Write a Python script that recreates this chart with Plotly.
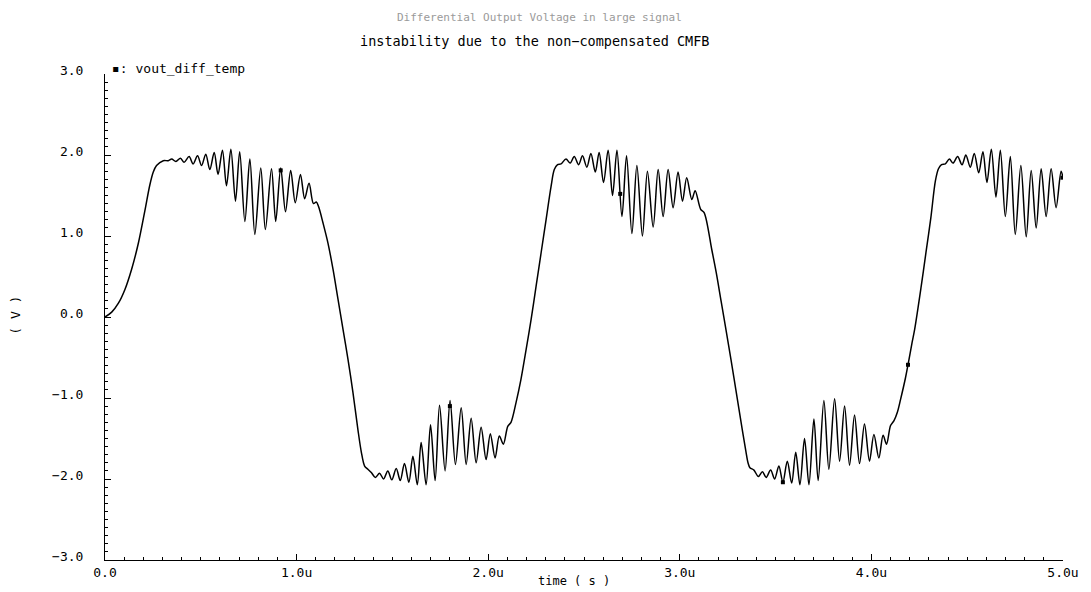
import plotly.graph_objects as go

# ---- data (time in microseconds, voltage in volts) ----
t_us = [
    0.000, 0.035, 0.070, 0.104, 0.139, 0.174, 0.208, 0.234, 0.252, 0.269, 0.304, 0.330,
    0.348, 0.370, 0.394, 0.413, 0.439, 0.460, 0.483, 0.504, 0.526, 0.547, 0.570, 0.590,
    0.613, 0.634, 0.657, 0.681, 0.703, 0.730, 0.756, 0.782, 0.813, 0.837, 0.869, 0.891,
    0.917, 0.942, 0.969, 0.993, 1.020, 1.042, 1.065,
    1.088, 1.103, 1.115, 1.138, 1.164, 1.190, 1.216, 1.242, 1.268, 1.294, 1.320, 1.338,
    1.355, 1.372, 1.390,
    1.411, 1.433, 1.454, 1.476, 1.497, 1.520, 1.541, 1.563, 1.586, 1.607, 1.630, 1.650,
    1.676, 1.699, 1.723, 1.746, 1.775, 1.801, 1.829, 1.859, 1.885, 1.911, 1.937, 1.963,
    1.989, 2.011, 2.036, 2.058, 2.079, 2.102, 2.119,
    2.145, 2.171, 2.198, 2.224, 2.250, 2.276, 2.302, 2.328, 2.345, 2.362, 2.380,
    2.406, 2.428, 2.449, 2.472, 2.492, 2.515, 2.536, 2.559, 2.579, 2.602, 2.626, 2.649,
    2.672, 2.698, 2.722, 2.750, 2.776, 2.805, 2.831, 2.861, 2.887, 2.913, 2.939, 2.965,
    2.991, 3.014, 3.036, 3.063, 3.080, 3.109, 3.127,
    3.167, 3.190, 3.216, 3.242, 3.268, 3.292, 3.326, 3.345, 3.356, 3.366,
    3.387, 3.410, 3.431, 3.451, 3.474, 3.495, 3.517, 3.538, 3.561, 3.584, 3.605, 3.627,
    3.651, 3.674, 3.700, 3.722, 3.752, 3.778, 3.808, 3.834, 3.860, 3.886, 3.912, 3.938,
    3.964, 3.990, 4.013, 4.039, 4.061, 4.079, 4.100, 4.118,
    4.135, 4.152, 4.178, 4.191, 4.212, 4.226, 4.260, 4.285, 4.310, 4.334, 4.350, 4.366,
    4.386,
    4.407, 4.426, 4.450, 4.473, 4.493, 4.516, 4.537, 4.560, 4.582, 4.603, 4.626, 4.650,
    4.673, 4.699, 4.725, 4.751, 4.780, 4.808, 4.834, 4.860, 4.886, 4.912, 4.938, 4.964,
    4.990, 5.000,
]
v_out = [
    0.00, 0.06, 0.17, 0.34, 0.59, 0.91, 1.31, 1.63, 1.79, 1.87, 1.93, 1.93,
    1.95, 1.92, 1.96, 1.91, 1.98, 1.89, 1.99, 1.87, 2.01, 1.82, 2.03, 1.76,
    2.06, 1.62, 2.07, 1.43, 2.04, 1.18, 1.95, 1.02, 1.84, 1.08, 1.83, 1.18,
    1.84, 1.30, 1.81, 1.41, 1.76, 1.46, 1.65,
    1.40, 1.42, 1.36, 1.16, 0.91, 0.59, 0.22, -0.15, -0.52, -0.93, -1.39, -1.67,
    -1.84, -1.88, -1.92,
    -1.98, -1.93, -2.00, -1.90, -2.01, -1.87, -2.02, -1.81, -2.04, -1.72, -2.07, -1.55,
    -2.07, -1.33, -2.02, -1.09, -1.90, -1.03, -1.82, -1.12, -1.82, -1.25, -1.80, -1.36,
    -1.76, -1.44, -1.74, -1.47, -1.57, -1.35, -1.30,
    -1.06, -0.77, -0.40, -0.03, 0.38, 0.79, 1.20, 1.61, 1.82, 1.88, 1.89,
    1.95, 1.90, 1.98, 1.88, 1.99, 1.85, 2.02, 1.79, 2.03, 1.66, 2.06, 1.50,
    2.06, 1.24, 1.99, 1.03, 1.87, 1.00, 1.80, 1.11, 1.82, 1.24, 1.82, 1.35,
    1.79, 1.43, 1.72, 1.45, 1.56, 1.33, 1.29,
    0.83, 0.55, 0.19, -0.17, -0.54, -0.89, -1.39, -1.66, -1.80, -1.86,
    -1.89, -1.97, -1.91, -1.98, -1.89, -2.00, -1.84, -2.04, -1.78, -2.05, -1.67, -2.07,
    -1.50, -2.07, -1.26, -2.02, -1.03, -1.88, -1.01, -1.78, -1.10, -1.83, -1.21, -1.81,
    -1.32, -1.78, -1.45, -1.74, -1.46, -1.57, -1.34, -1.28,
    -1.18, -1.02, -0.75, -0.59, -0.32, -0.15, 0.38, 0.80, 1.22, 1.68, 1.83, 1.88,
    1.89,
    1.95, 1.90, 1.98, 1.88, 2.00, 1.85, 2.02, 1.78, 2.04, 1.66, 2.07, 1.48,
    2.06, 1.24, 1.98, 1.02, 1.87, 0.99, 1.81, 1.10, 1.83, 1.24, 1.83, 1.35,
    1.80, 1.72,
]

# trace identification markers
marker_t = [0.917, 1.800, 2.689, 3.538, 4.191, 4.997]
marker_v = [1.81, -1.10, 1.52, -2.04, -0.59, 1.72]

x_tick_vals = [0, 1, 2, 3, 4, 5]
x_tick_text = ["0.0", "1.0u", "2.0u", "3.0u", "4.0u", "5.0u"]
y_tick_vals = [-3, -2, -1, 0, 1, 2, 3]
y_tick_text = ["\u22123.0", "\u22122.0", "\u22121.0", "0.0", "1.0", "2.0", "3.0"]

series_name = "vout_diff_temp"
title_1 = "Differential Output Voltage in large signal"
title_2 = "instability due to the non\u2212compensated CMFB"

# ---- layout geometry (pixels) ----
W, H = 1091, 592
L, R, T, B = 105, 1065, 74, 561


def px(x):
    return (x - L) / (R - L)


def py(y):
    return (B - y) / (B - T)


FONT = "DejaVu Sans Mono"

fig = go.Figure()
fig.add_trace(go.Scatter(
    x=t_us, y=v_out, mode="lines",
    line=dict(color="black", width=1.5, shape="spline", smoothing=0.9),
    name=series_name, showlegend=False, hoverinfo="skip",
))
fig.add_trace(go.Scatter(
    x=marker_t, y=marker_v, mode="markers",
    marker=dict(symbol="square", size=4, color="black"),
    showlegend=False, hoverinfo="skip",
))

fig.update_layout(
    width=W, height=H,
    margin=dict(l=L, r=W - R, t=T, b=H - B, pad=0),
    paper_bgcolor="white", plot_bgcolor="white",
    showlegend=False,
    font=dict(family=FONT, size=13, color="black"),
    xaxis=dict(
        range=[0, 5], showgrid=False, zeroline=False,
        showline=True, linecolor="black", linewidth=1,
        tickmode="array", tickvals=x_tick_vals, ticktext=x_tick_text,
        ticks="inside", ticklen=6, tickwidth=1, tickcolor="black",
        minor=dict(tickmode="linear", tick0=0, dtick=0.1, ticks="inside",
                   ticklen=3, tickwidth=1, tickcolor="black"),
        tickfont=dict(family=FONT, size=13, color="black"),
    ),
    yaxis=dict(
        range=[-3, 3], showgrid=False, zeroline=False,
        showline=True, linecolor="black", linewidth=1,
        tickmode="array", tickvals=y_tick_vals, ticktext=y_tick_text,
        ticks="inside", ticklen=6, tickwidth=1, tickcolor="black",
        minor=dict(tickmode="linear", tick0=0, dtick=0.1, ticks="inside",
                   ticklen=3, tickwidth=1, tickcolor="black"),
        tickfont=dict(family=FONT, size=13, color="black"),
        ticklabelstandoff=18, ticklabelshift=-4,
    ),
    annotations=[
        dict(text=title_1, x=px(540), y=py(17), xref="paper", yref="paper",
             showarrow=False, xanchor="center", yanchor="middle",
             font=dict(family=FONT, size=11, color="#9a9a9a")),
        dict(text=title_2, x=px(536), y=py(41), xref="paper", yref="paper",
             showarrow=False, xanchor="center", yanchor="middle",
             font=dict(family=FONT, size=13.5, color="black")),
        dict(text="\u25aa: " + series_name, x=px(110), y=py(68), xref="paper", yref="paper",
             showarrow=False, xanchor="left", yanchor="middle",
             font=dict(family=FONT, size=13, color="black")),
        dict(text="( V )", x=px(15), y=py(316), xref="paper", yref="paper",
             showarrow=False, xanchor="center", yanchor="middle", textangle=-90,
             font=dict(family=FONT, size=13, color="black")),
        dict(text="time ( s )", x=px(575), y=py(582), xref="paper", yref="paper",
             showarrow=False, xanchor="center", yanchor="middle",
             font=dict(family=FONT, size=12, color="black")),
    ],
)

fig.write_html("out.html")
